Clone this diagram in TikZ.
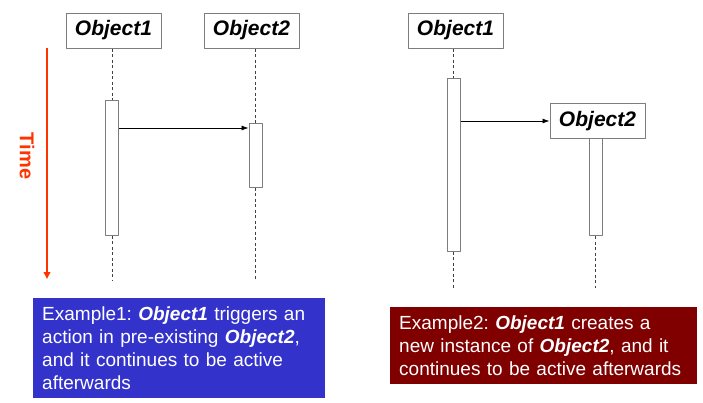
\documentclass[tikz,border=0pt]{standalone}
\usepackage{fontspec}
\setmainfont{Liberation Sans}
\usetikzlibrary{arrows.meta}
\frenchspacing
\definecolor{lineGray}{RGB}{125,125,125}
\definecolor{timeRed}{RGB}{255,51,0}
\definecolor{exBlue}{RGB}{51,51,204}
\definecolor{exRed}{RGB}{128,0,0}
\tikzset{
  obj/.style={draw=lineGray, line width=1pt, fill=white, minimum width=95pt, minimum height=35pt, inner sep=0pt, font=\fontsize{21}{24}\selectfont\bfseries\itshape},
  act/.style={draw=lineGray, line width=1pt, fill=white, minimum width=13pt, inner sep=0pt},
  life/.style={black!75, line width=0.8pt, dash pattern=on 3pt off 2.5pt},
  msg/.style={line width=0.8pt, -{Latex[length=7pt,width=5pt]}},
  note/.style={text=white, align=left, anchor=north west, inner xsep=9pt, inner ysep=0pt, font=\fontsize{19}{23}\selectfont}
}
\begin{document}
\begin{tikzpicture}[x=1pt, y=-1pt, line cap=butt, line join=round]
    \useasboundingbox (0,0) rectangle (703,402);

    % Example 1: pre-existing Object2
    \node[obj] (o1) at (113.5,30.5) {Object1};
    \node[obj] (o2) at (251.5,30.5) {Object2};
    \node[act, minimum height=135pt] (act1) at (112,167.5) {};
    \node[act, minimum height=64pt] (act2) at (255.5,155) {};
    \coordinate (end1) at (112,280);
    \coordinate (end2) at (255.5,280);
    \coordinate (m1) at (0,128);

    \draw[life] (act1.north |- o1.south) -- (act1.north);
    \draw[life] (act1.south) -- (end1);
    \draw[life] (act2.north |- o2.south) -- (act2.north);
    \draw[life] (act2.south) -- (end2);
    \draw[msg] (act1.east |- m1) -- (act2.west |- m1);

    % time axis
    \coordinate (t0) at (47,48);
    \coordinate (t1) at (47,279);
    \draw[timeRed, line width=2.2pt, -{Triangle[length=7pt,width=6.5pt]}] (t0) -- (t1);
    \node[timeRed, rotate=-90, font=\fontsize{20}{24}\selectfont\bfseries] (time) at (27,156) {Time};

    % Example 2: Object1 creates Object2
    \node[obj] (o3) at (455.5,30.5) {Object1};
    \node[act, minimum height=173pt] (act3) at (453.5,164.5) {};
    \node[obj] (o4) at (597.5,121) {Object2};
    \node[act, minimum height=97pt, anchor=north] (act4) at (595.5,138) {};
    \coordinate (end3) at (453.5,288);
    \coordinate (end4) at (595.5,288);

    \draw[life] (act3.north |- o3.south) -- (act3.north);
    \draw[life] (act3.south) -- (end3);
    \draw[life] (act4.south) -- (end4);
    \draw[msg] (act3.east |- o4.west) -- (o4.west);

    % captions
    \node[note, fill=exBlue, text width=274pt, minimum width=292pt, minimum height=100pt] (ex1) at (33,298)
      {Example1: \textbf{\textit{Object1}} triggers an\\
       action in pre-existing \textbf{\textit{Object2}},\\
       and it continues to be active\\
       afterwards};
    \node[note, fill=exRed, text width=289pt, minimum width=307pt, minimum height=77pt] (ex2) at (390,307)
      {Example2: \textbf{\textit{Object1}} creates a\\
       new instance of \textbf{\textit{Object2}}, and it\\
       continues to be active afterwards};
\end{tikzpicture}
\end{document}
